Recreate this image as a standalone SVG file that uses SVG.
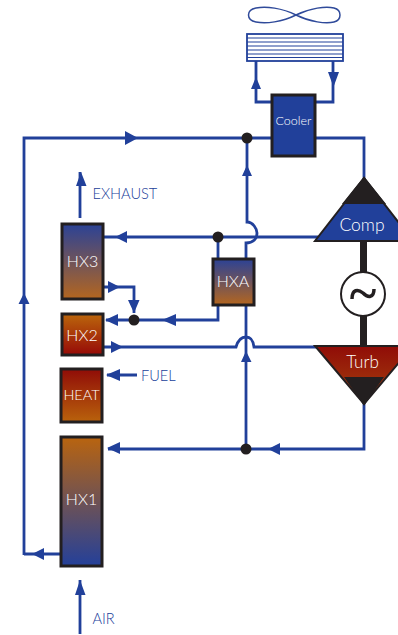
<svg xmlns="http://www.w3.org/2000/svg" width="398" height="635" viewBox="0 0 398 635">
<defs>
<linearGradient id="blueOrange" x1="0" y1="0" x2="0" y2="1"><stop offset="0" stop-color="#2b4296"/><stop offset="1" stop-color="#b4661f"/></linearGradient>
<linearGradient id="orangeBlue" x1="0" y1="0" x2="0" y2="1"><stop offset="0" stop-color="#b9640f"/><stop offset="1" stop-color="#24409a"/></linearGradient>
<linearGradient id="orangeRed" x1="0" y1="0" x2="0" y2="1"><stop offset="0" stop-color="#bb660c"/><stop offset="1" stop-color="#960a07"/></linearGradient>
<linearGradient id="redOrange" x1="0" y1="0" x2="0" y2="1"><stop offset="0" stop-color="#900c07"/><stop offset="1" stop-color="#b9620c"/></linearGradient>
<linearGradient id="turbGrad" x1="0" y1="0" x2="0" y2="1"><stop offset="0" stop-color="#900c07"/><stop offset="1" stop-color="#a6450e"/></linearGradient>
</defs>
<style>
.w{fill:none;stroke:#21409a;stroke-width:2.8;stroke-linejoin:miter}
.box{stroke:#231f20;stroke-width:3}
.in{font-family:"Lato","Liberation Sans",sans-serif;font-weight:300;fill:#fff;text-anchor:middle;dominant-baseline:central}
.lb{font-family:"Lato","Liberation Sans",sans-serif;font-weight:300;fill:#21409a;font-size:14.600px;dominant-baseline:central}
.dot{fill:#231f20}
</style>
<g id="connectors">
<path class="w" d="M24 555V138H272M315 138H364V180"/>
<path class="w" d="M61 554H24"/>
<path class="w" d="M256 61V102H272M315 102H333V61"/>
<path class="w" d="M247 138V222C253 222 257 229 257 233C257 239 253 243 246 243V258"/>
<path class="w" d="M104 237H318"/>
<path class="w" d="M218 237V258M218 305V320H106"/>
<path class="w" d="M104 287H134V313"/>
<path class="w" d="M104 347H236C238 340 241 337 246 337C251 337 253 340 254 347H318"/>
<path class="w" d="M246 305V449"/>
<path class="w" d="M364 402V449H108"/>
<path class="w" d="M80 218V172M137 375H107M80 634V580"/>
<g fill="#21409a">
<path d="M125 131L138 138L125 145ZM24 293L29.500 304H18.500ZM256 77L261 89H251ZM328 72H339L333.500 87Z"/>
<path d="M247 165L252 176H242ZM127 231V243L115 237ZM81 172L86.500 186H76ZM108 281L120 287L108 293ZM128 300H139.500L134 313ZM118 314V326L105 320ZM176 314V326L162 320ZM111 341L123 347L111 353ZM246 351L251.500 362H241ZM280 443V455L268 449ZM120 442V454L107 448ZM120 369V381L106 375ZM80 580L85.500 595H75ZM44 548V560L32 554Z"/>
</g>
<circle class="dot" cx="247" cy="138" r="5.500"/>
<circle class="dot" cx="218" cy="237" r="5.500"/>
<circle class="dot" cx="134" cy="320" r="5.500"/>
<circle class="dot" cx="246" cy="449" r="5.500"/>
</g>
<g id="fan"><path d="M296 15C282 8 266 6 256 8C246 10 246 20 256 22C266 24 282 22 296 15C310 8 326 6 334 8C342 10 342 20 334 22C326 24 310 22 296 15Z" fill="none" stroke="#2f4a9a" stroke-width="1.500"/></g>
<g id="radiator"><rect x="247" y="34" width="96" height="27" fill="#fff" stroke="#21409a" stroke-width="1.800"/><path d="M247 38H343M247 42H343M247 46H343M247 50H343M247 54H343M247 57.500H343" stroke="#21409a" stroke-width="1.200"/></g>
<g id="cooler"><rect class="box" x="272" y="95" width="43" height="61" fill="#21409a"/><text class="in" x="293.500" y="120.500" font-size="12.500">Cooler</text></g>
<g id="comp"><path d="M364 178L315 241H413Z" fill="#21409a" stroke="#231f20" stroke-width="2"/><path d="M364 178L344 203H384Z" fill="#231f20" stroke="#231f20" stroke-width="2"/><text class="in" x="362" y="224.500" font-size="17.500">Comp</text></g>
<g id="shaft"><rect x="360" y="241" width="7" height="105" fill="#231f20"/></g>
<g id="generator"><circle cx="363" cy="294" r="22" fill="#fff" stroke="#231f20" stroke-width="2"/><path d="M352 299C352 289 358 289 363 293C368 298 374 298 374 289" fill="none" stroke="#231f20" stroke-width="3.500"/></g>
<g id="turb"><path d="M315 346H413L364 404Z" fill="url(#turbGrad)" stroke="#231f20" stroke-width="2"/><path d="M346 378H382L364 404Z" fill="#231f20" stroke="#231f20" stroke-width="2"/><text class="in" x="362.500" y="361" font-size="17">Turb</text></g>
<g id="hxa"><rect class="box" x="213" y="259" width="41" height="46" fill="url(#blueOrange)"/><text class="in" x="233" y="280" font-size="16">HXA</text></g>
<g id="hx3"><rect class="box" x="62" y="224" width="41" height="75" fill="url(#blueOrange)"/><text class="in" x="82.500" y="260" font-size="16">HX3</text></g>
<g id="hx2"><rect class="box" x="62" y="314" width="41" height="41" fill="url(#orangeRed)"/><text class="in" x="82" y="334" font-size="16">HX2</text></g>
<g id="heat"><rect class="box" x="61" y="369" width="41" height="53" fill="url(#redOrange)"/><text class="in" x="81.500" y="394" font-size="14.500">HEAT</text></g>
<g id="hx1"><rect class="box" x="61" y="437" width="41" height="129" fill="url(#orangeBlue)"/><text class="in" x="81.500" y="498" font-size="16">HX1</text></g>
<text class="lb" x="92.500" y="193">EXHAUST</text>
<text class="lb" x="141" y="375">FUEL</text>
<text class="lb" x="92.500" y="618">AIR</text>
</svg>
